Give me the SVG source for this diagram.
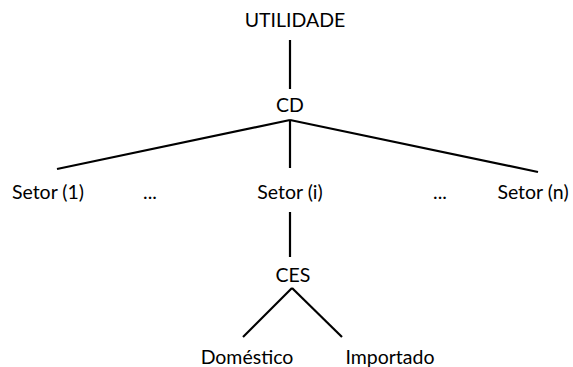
<svg xmlns="http://www.w3.org/2000/svg" width="573" height="367" viewBox="0 0 573 367">
<style>
text{font-family:Lato,"Open Sans","Liberation Sans",sans-serif;font-size:19.5px;fill:#000;text-anchor:middle}
.c{stroke:#000;stroke-width:2.2;fill:none}
</style>
<rect width="573" height="367" fill="#fff"/>
<g id="connectors">
<line class="c" x1="290" y1="40" x2="290" y2="89"/>
<line class="c" x1="290" y1="120" x2="57" y2="169"/>
<line class="c" x1="290" y1="120" x2="538" y2="172"/>
<line class="c" x1="290" y1="120" x2="290" y2="168"/>
<line class="c" x1="290" y1="212" x2="290" y2="257"/>
<line class="c" x1="292" y1="288" x2="243" y2="337"/>
<line class="c" x1="292" y1="288" x2="342" y2="337"/>
</g>
<g id="utilidade"><text x="295" y="27">UTILIDADE</text></g>
<g id="cd"><text x="290" y="112">CD</text></g>
<g id="setor1"><text x="48" y="199">Setor (1)</text></g>
<g id="dots1"><text x="150" y="199">...</text></g>
<g id="setori"><text x="290" y="199">Setor (i)</text></g>
<g id="dots2"><text x="440" y="199">...</text></g>
<g id="setorn"><text x="533" y="199">Setor (n)</text></g>
<g id="ces"><text x="293" y="282">CES</text></g>
<g id="domestico"><text x="247" y="364">Doméstico</text></g>
<g id="importado"><text x="390" y="364">Importado</text></g>
</svg>
